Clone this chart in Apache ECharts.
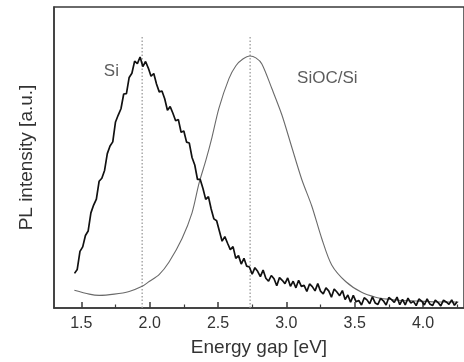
<!DOCTYPE html>
<html>
<head>
<meta charset="utf-8">
<script src="https://cdn.jsdelivr.net/npm/echarts@6/dist/echarts.min.js"></script>
<style>html,body{margin:0;padding:0;background:#fff}#c{width:464px;height:362px}</style>
</head>
<body>
<div id="c"></div>
<script>
// Tick labels (eV)
var xMajorTicks = [1.5, 2.0, 2.5, 3.0, 3.5, 4.0];
var xMinorTicks = [1.75, 2.25, 2.75, 3.25, 3.75, 4.25];
// Si PL spectrum (noisy) : [energy eV, intensity a.u.]
var siData = [
[1.45,11.5],[1.47,12.8],[1.49,18.8],[1.51,20.3],[1.53,24.1],[1.55,25.6],[1.57,31.6],[1.59,34.2],
[1.61,36.2],[1.63,42.1],[1.65,43.1],[1.67,45.7],[1.69,51.3],[1.71,53.8],[1.73,55.2],[1.75,61.8],
[1.77,64.1],[1.79,66.2],[1.81,71.1],[1.83,71.2],[1.85,76.6],[1.87,78.0],[1.89,82.0],[1.91,81.2],
[1.93,83.4],[1.95,80.2],[1.97,81.9],[1.99,79.7],[2.01,77.0],[2.03,77.9],[2.05,74.4],[2.07,71.8],
[2.09,72.1],[2.11,69.5],[2.13,65.7],[2.15,66.9],[2.17,64.7],[2.19,62.2],[2.21,62.6],[2.23,58.4],
[2.25,58.8],[2.27,55.1],[2.29,54.8],[2.31,50.0],[2.33,47.5],[2.35,42.7],[2.37,42.7],[2.39,39.7],
[2.41,36.1],[2.43,37.0],[2.45,32.9],[2.47,29.6],[2.49,29.0],[2.51,25.6],[2.53,22.2],[2.55,23.7],
[2.57,21.5],[2.59,19.4],[2.61,20.4],[2.63,16.5],[2.65,17.4],[2.67,14.6],[2.69,16.5],[2.71,13.9],
[2.73,13.6],[2.75,11.2],[2.77,13.4],[2.79,12.2],[2.81,10.4],[2.83,12.6],[2.85,9.9],[2.87,8.9],
[2.89,10.8],[2.91,9.7],[2.93,7.4],[2.95,10.1],[2.97,9.2],[2.99,8.1],[3.01,10.0],[3.03,7.2],
[3.05,8.9],[3.07,6.7],[3.09,9.2],[3.11,7.2],[3.13,7.5],[3.15,5.5],[3.17,8.0],[3.19,7.1],
[3.21,5.7],[3.23,8.1],[3.25,5.6],[3.27,4.7],[3.29,6.7],[3.31,5.7],[3.33,3.6],[3.35,6.3],
[3.37,5.3],[3.39,4.1],[3.41,5.8],[3.43,2.8],[3.45,4.3],[3.47,1.9],[3.49,4.2],[3.51,2.1],
[3.53,2.5],[3.55,1.0],[3.57,3.4],[3.59,2.7],[3.61,1.4],[3.63,3.7],[3.65,1.7],[3.67,1.2],
[3.69,3.2],[3.71,2.4],[3.73,1.0],[3.75,3.5],[3.77,2.8],[3.79,1.9],[3.81,3.6],[3.83,1.1],
[3.85,2.9],[3.87,1.0],[3.89,3.3],[3.91,1.7],[3.93,2.2],[3.95,0.8],[3.97,3.0],[3.99,2.3],
[4.01,1.0],[4.03,3.0],[4.05,1.3],[4.07,0.8],[4.09,2.6],[4.11,1.8],[4.13,0.7],[4.15,2.6],
[4.17,2.0],[4.19,1.2],[4.21,2.7],[4.23,0.9],[4.25,2.1]
];
// SiOC/Si PL spectrum (smooth)
var siocData = [
[1.449,5.9],[1.558,4.6],[1.631,4.2],[1.741,4.6],[1.850,5.5],[1.945,7.2],[1.996,8.8],[2.069,11.1],
[2.142,15.3],[2.237,23.1],[2.310,31.6],[2.361,41.4],[2.412,49.2],[2.456,56.7],[2.507,66.4],[2.580,76.2],
[2.631,80.5],[2.682,82.7],[2.734,83.7],[2.777,83.1],[2.821,81.1],[2.894,72.9],[2.967,64.2],[3.040,53.4],
[3.113,42.7],[3.186,33.9],[3.259,23.1],[3.332,14.3],[3.434,8.8],[3.551,5.2],[3.653,3.6],[3.748,2.9],
[3.821,2.6],[3.967,2.3],[4.113,2.0],[4.259,2.0]
];
// Peak positions (dotted guide lines)
var peakEnergies = [1.945, 2.735];
var peakLineTop = 90;
// Curve labels: [energy, intensity, text]
var curveLabels = [[1.72, 78.5, 'Si'], [3.30, 76.2, 'SiOC/Si']];

var FONT = 'Liberation Sans, Arial, sans-serif';
var axisColor = '#3a3a3a';

var series = [];
peakEnergies.forEach(function (e) {
  series.push({
    type: 'line', data: [[e, 0], [e, peakLineTop]], symbol: 'none', silent: true,
    lineStyle: { color: '#9a9a9a', width: 1.3, type: [1.5, 2] }, z: 1
  });
});
series.push({
  type: 'line', data: siocData, symbol: 'none', smooth: 0.3,
  lineStyle: { color: '#6a6a6a', width: 1.1 }, z: 2
});
series.push({
  type: 'line', data: siData, symbol: 'none',
  lineStyle: { color: '#111', width: 1.7 }, z: 3
});
series.push({
  type: 'scatter', symbolSize: 0, data: curveLabels.map(function (d) { return { value: [d[0], d[1]], name: d[2] }; }),
  label: { show: true, position: 'inside', formatter: '{b}', fontFamily: FONT, fontSize: 17, color: '#333' },
  z: 4
});

var chart = echarts.init(document.getElementById('c'), null, { renderer: 'canvas' });
chart.setOption({
  animation: false,
  backgroundColor: '#fff',
  grid: { left: 54, right: -2, top: 7, bottom: 48, show: true, borderColor: axisColor, borderWidth: 1.5, backgroundColor: 'transparent' },
  xAxis: [{
    type: 'value', min: 1.3, max: 4.3,
    name: 'Energy gap [eV]', nameLocation: 'middle', nameGap: 30,
    nameTextStyle: { fontFamily: FONT, fontSize: 19, color: '#333' },
    axisLine: { show: true, lineStyle: { color: axisColor, width: 1.5 } },
    axisTick: { show: true, inside: true, length: 6, customValues: xMajorTicks, lineStyle: { color: axisColor, width: 1.5 } },
    axisLabel: { show: true, customValues: xMajorTicks, margin: 8, fontFamily: FONT, fontSize: 16, color: '#333',
      formatter: function (v) { return v.toFixed(1); } },
    splitLine: { show: false }
  }, {
    type: 'value', min: 1.3, max: 4.3, position: 'bottom', gridIndex: 0,
    axisLine: { show: false },
    axisTick: { show: true, inside: true, length: 3.5, customValues: xMinorTicks, lineStyle: { color: axisColor, width: 1.2 } },
    axisLabel: { show: false },
    splitLine: { show: false }
  }],
  yAxis: {
    type: 'value', min: 0, max: 100,
    name: 'PL intensity [a.u.]', nameLocation: 'middle', nameGap: 18,
    nameTextStyle: { fontFamily: FONT, fontSize: 19, color: '#333' },
    axisLine: { show: true, lineStyle: { color: axisColor, width: 1.5 } },
    axisTick: { show: false }, axisLabel: { show: false }, splitLine: { show: false }
  },
  series: series
});
</script>
</body>
</html>
